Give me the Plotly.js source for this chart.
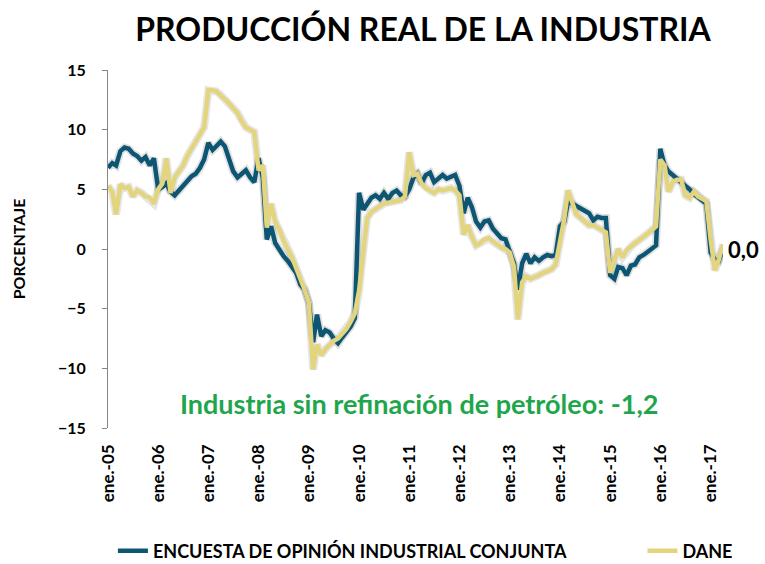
<!DOCTYPE html>
<html>
<head>
<meta charset="utf-8">
<script src="https://cdn.plot.ly/plotly-3.0.1.min.js"></script>
<style>html,body{margin:0;padding:0;background:#fff;}#chart{width:765px;height:564px;}</style>
</head>
<body>
<div id="chart"></div>
<script>
// Monthly series, ene-05 .. abr-17
const startYear = 2005;
const eoic = [
  6.8, 7.2, 7.0, 8.2, 8.5, 8.4, 8.0, 7.8, 7.4, 7.7, 7.0, 7.6,
  5.0, 5.2, 5.5, 4.8, 4.5, 4.9, 5.2, 5.7, 6.1, 6.3, 6.8, 7.5,
  8.9, 8.3, 8.6, 9.0, 8.6, 7.6, 6.5, 6.0, 6.3, 6.6, 6.0, 5.6,
  7.6, 6.0, 0.8, 1.9, 0.5, -0.1, -0.6, -1.0, -1.5, -2.0, -3.0, -3.4,
  -4.5, -7.8, -5.5, -7.3, -6.8, -7.0, -7.5, -7.9, -7.4, -7.0, -6.5, -5.8,
  4.7, 3.3, 3.8, 4.3, 4.5, 4.2, 4.7, 4.2, 4.7, 4.9, 4.5, 4.4,
  5.0, 6.0, 6.3, 5.5, 6.2, 6.4, 5.6, 5.9, 6.2, 5.9, 6.1, 6.2,
  5.3, 3.0, 4.3, 3.5, 2.3, 1.8, 2.3, 2.4, 1.7, 1.3, 0.9, 0.8,
  -0.1, -1.2, -3.4, -1.2, -0.4, -1.2, -0.7, -1.0, -0.7, -0.5, -0.6, -0.5,
  1.9, 2.3, 4.0, 3.8, 3.5, 3.4, 3.2, 3.0, 2.4, 2.7, 2.6, 2.6,
  -2.2, -2.5, -1.5, -1.6, -2.2, -1.4, -1.3, -0.7, -0.5, -0.2, 0.0, 0.3,
  8.4, 7.0, 6.5, 6.2, 5.8, 5.5, 5.2, 5.0, 4.6, 4.3, 4.0, 3.8,
  -0.3, -0.9, -1.0, 0.0
];
const dane = [
  5.3, 4.8, 2.9, 5.4, 5.1, 5.2, 4.4, 4.9, 4.7, 4.4, 4.3, 3.8,
  5.0, 5.5, 7.6, 4.7, 6.0, 6.5, 7.0, 7.8, 8.4, 9.1, 9.7, 10.2,
  13.3, 13.3, 13.2, 12.9, 12.6, 12.2, 11.8, 11.4, 10.7, 10.2, 10.0, 9.8,
  6.6, 7.0, 1.8, 3.8, 2.3, 1.6, 0.7, 0.0, -0.7, -1.6, -2.4, -3.4,
  -4.5, -10.1, -8.0, -8.9, -8.4, -8.0, -7.7, -7.5, -7.1, -6.7, -6.1, -5.4,
  -3.5, -0.1, 2.6, 3.1, 3.4, 3.6, 3.8, 3.9, 4.0, 4.0, 4.1, 4.4,
  8.1, 6.2, 6.3, 5.5, 5.1, 4.9, 4.7, 5.0, 4.9, 5.0, 5.1, 4.9,
  4.5, 1.2, 2.0, 1.0, 0.3, 0.5, 0.8, 0.9, 0.6, 0.4, 0.1, 0.0,
  -0.3, -1.5, -5.9, -2.8, -2.3, -2.5, -2.4, -2.2, -2.0, -1.9, -1.7, -1.3,
  0.4, 2.5, 4.9, 3.8, 2.9, 2.6, 2.3, 2.0, 2.0, 1.8, 1.6, 1.4,
  -2.0, -1.0, 0.0, -0.7, -0.1, 0.2, 0.5, 0.7, 1.0, 1.3, 1.6, 1.9,
  7.5, 7.0, 4.8, 5.6, 5.8, 5.8, 4.5, 4.3, 4.8, 4.4, 4.2, 4.0,
  0.8, -1.8, -0.9, 0.4
];
const tickYears = ['05','06','07','08','09','10','11','12','13','14','15','16','17'];
const tickLabels = tickYears.map(y => 'ene.-' + y);
const seriesNames = ['ENCUESTA DE OPINIÓN INDUSTRIAL CONJUNTA', 'DANE'];
const lastLabel = '0,0';
const noteText = 'Industria sin refinación de petróleo: -1,2';

// month dates for the date axis
const months = eoic.map((_, i) => {
  const y = startYear + Math.floor(i / 12);
  const m = (i % 12) + 1;
  return y + '-' + String(m).padStart(2, '0') + '-01';
});
const tickVals = tickYears.map(y => '20' + y + '-01-01');
const xEnd = months[months.length - 1];

const darkC = '#0d5673';
const yellC = '#e3d47e';

const traces = [
  {x: months, y: eoic, type: 'scatter', mode: 'lines', showlegend: false, hoverinfo: 'skip',
   line: {color: 'rgba(0,0,0,0.12)', width: 8}},
  {x: months, y: dane, type: 'scatter', mode: 'lines', showlegend: false, hoverinfo: 'skip',
   line: {color: 'rgba(0,0,0,0.10)', width: 8}},
  {x: months, y: eoic, type: 'scatter', mode: 'lines', name: seriesNames[0], legend: 'legend',
   line: {color: darkC, width: 4.5}},
  {x: months, y: dane, type: 'scatter', mode: 'lines', name: seriesNames[1], legend: 'legend2',
   line: {color: yellC, width: 4.5}}
];

const fontFam = 'Lato, "Open Sans", sans-serif';
const legFont = {family: fontFam, size: 18, color: '#000', weight: 'bold'};
const layout = {
  width: 765, height: 564,
  margin: {l: 108, r: 42, t: 70, b: 136, autoexpand: false},
  paper_bgcolor: '#ffffff', plot_bgcolor: '#ffffff',
  font: {family: fontFam, color: '#000', size: 14},
  title: {text: '<b>PRODUCCIÓN REAL DE LA INDUSTRIA</b>', font: {family: fontFam, size: 32, color: '#000'},
          x: 0.553, xanchor: 'center', y: 0.947, yanchor: 'middle'},
  xaxis: {type: 'date', range: [months[0], xEnd], tickvals: tickVals, ticktext: tickLabels,
          tickangle: -90, showgrid: false, zeroline: false, showline: false, ticks: '',
          automargin: false, ticklabelstandoff: 12,
          tickfont: {family: fontFam, size: 17, color: '#000', weight: 'bold'}},
  xaxis2: {type: 'date', overlaying: 'x', matches: 'x', range: [months[0], xEnd], anchor: 'free', position: 0.5,
           tickvals: tickVals, showticklabels: false, showgrid: false, zeroline: false,
           showline: true, linecolor: '#868686', linewidth: 1, ticks: 'outside', ticklen: 5, tickcolor: '#868686', side: 'bottom'},
  yaxis: {range: [-15, 15], dtick: 5, tick0: 0, showgrid: false, zeroline: false, automargin: false,
          showline: true, linecolor: '#868686', linewidth: 1, ticks: 'outside', ticklen: 5, tickcolor: '#868686',
          ticklabelstandoff: 13,
          tickfont: {family: fontFam, size: 16, color: '#000', weight: 'bold'},
          title: {text: '<b>PORCENTAJE</b>', font: {family: fontFam, size: 16, color: '#000'}, standoff: 28}},
  legend: {orientation: 'h', x: 0.008, xanchor: 'left', y: -0.344, yanchor: 'middle', font: legFont, itemwidth: 30},
  legend2: {orientation: 'h', x: 0.869, xanchor: 'left', y: -0.344, yanchor: 'middle', font: legFont, itemwidth: 30},
  annotations: [
    {x: xEnd, y: eoic[eoic.length - 1], xref: 'x', yref: 'y', text: '<b>' + lastLabel + '</b>',
     showarrow: false, xanchor: 'left', yanchor: 'middle', xshift: 3,
     font: {family: fontFam, size: 22, color: '#000'}},
    {x: 0.505, y: 0.068, xref: 'paper', yref: 'paper', text: '<b>' + noteText + '</b>',
     showarrow: false, xanchor: 'center', yanchor: 'middle',
     font: {family: fontFam, size: 27, color: '#1fa64c'}}
  ]
};

Plotly.newPlot('chart', traces, layout, {displayModeBar: false, staticPlot: true});
</script>
</body>
</html>
